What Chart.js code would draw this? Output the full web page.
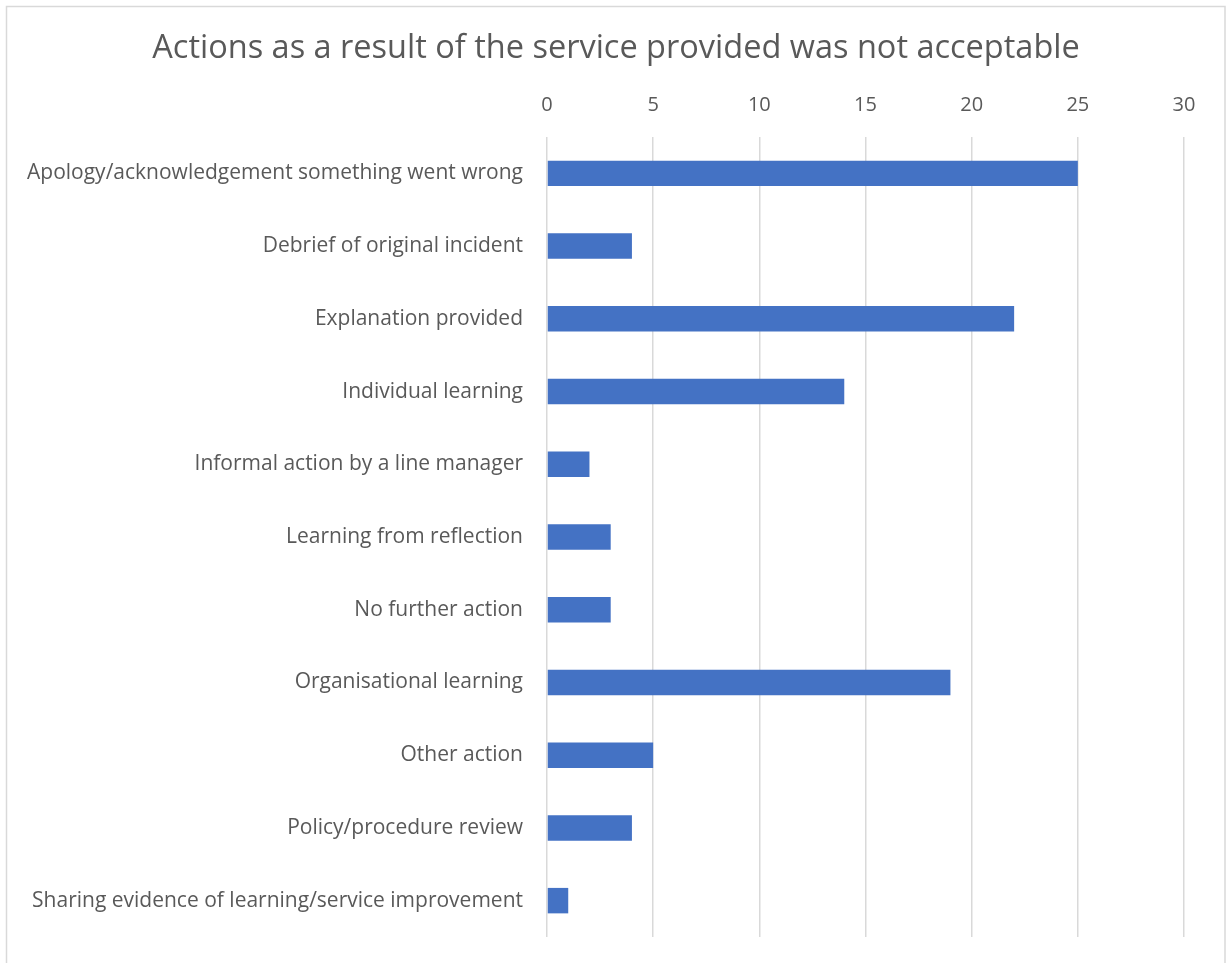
<!DOCTYPE html>
<html>
<head>
<meta charset="utf-8">
<title>Actions as a result of the service provided was not acceptable</title>
<script src="https://cdn.jsdelivr.net/npm/chart.js@4.4.1/dist/chart.umd.min.js"></script>
<style>
  html, body { margin: 0; padding: 0; background: #ffffff; }
  #wrap { width: 1226px; height: 963px; }
</style>
</head>
<body>
<div id="wrap"><canvas id="chart" width="1226" height="963"></canvas></div>
<script>
const chartTitle = 'Actions as a result of the service provided was not acceptable';

const categories = [
  'Apology/acknowledgement something went wrong',
  'Debrief of original incident',
  'Explanation provided',
  'Individual learning',
  'Informal action by a line manager',
  'Learning from reflection',
  'No further action',
  'Organisational learning',
  'Other action',
  'Policy/procedure review',
  'Sharing evidence of learning/service improvement'
];

const counts = [25, 4, 22, 14, 2, 3, 3, 19, 5, 4, 1];

const axisMin = 0;
const axisMax = 30;
const axisStep = 5;

const FONT = '"Open Sans", "Noto Sans", sans-serif';
const TEXT = '#595959';
const GRID = '#d9d9d9';

const PAD_LEFT = 6;
const PLOT_LEFT = 547;
const PLOT_TOP = 137;
const PLOT_RIGHT_GAP = 42;
const TITLE_SIZE = 32.5;
const TITLE_PAD_TOP = 29;
const TITLE_PAD_BOTTOM = 8;

// light frame around the whole chart
const framePlugin = {
  id: 'frame',
  beforeDraw(chart) {
    const ctx = chart.ctx;
    ctx.save();
    ctx.fillStyle = '#ffffff';
    ctx.fillRect(0, 0, chart.width, chart.height);
    ctx.strokeStyle = GRID;
    ctx.lineWidth = 1.5;
    ctx.strokeRect(6.5, 6.5, 1218.5, chart.height + 20);
    ctx.restore();
  }
};

new Chart(document.getElementById('chart'), {
  type: 'bar',
  data: {
    labels: categories,
    datasets: [{
      label: 'Count',
      data: counts,
      backgroundColor: '#4472C4',
      borderWidth: 0,
      categoryPercentage: 1.0,
      barPercentage: 0.35
    }]
  },
  options: {
    indexAxis: 'y',
    responsive: false,
    animation: false,
    devicePixelRatio: 1,
    layout: { padding: { left: PAD_LEFT, right: 0, top: 0, bottom: 26 } },
    plugins: {
      legend: { display: false },
      tooltip: { enabled: false },
      title: {
        display: true,
        text: chartTitle,
        color: TEXT,
        font: { family: FONT, size: TITLE_SIZE, weight: 'normal', lineHeight: 1.2 },
        padding: { top: TITLE_PAD_TOP, bottom: TITLE_PAD_BOTTOM }
      }
    },
    scales: {
      x: {
        position: 'top',
        min: axisMin,
        max: axisMax,
        ticks: {
          stepSize: axisStep,
          color: TEXT,
          font: { family: FONT, size: 20 },
          padding: 20
        },
        grid: { color: GRID, lineWidth: 1.5, drawTicks: false },
        border: { display: false },
        afterFit(scale) {
          scale.height = PLOT_TOP - TITLE_PAD_TOP - TITLE_SIZE * 1.2 - TITLE_PAD_BOTTOM;
          scale.paddingLeft = 0;
          scale.paddingRight = PLOT_RIGHT_GAP;
        }
      },
      y: {
        ticks: {
          color: TEXT,
          font: { family: FONT, size: 21 },
          padding: 24,
          autoSkip: false
        },
        grid: { display: false, drawTicks: false },
        border: { display: false },
        afterFit(scale) {
          scale.width = PLOT_LEFT - PAD_LEFT;
          scale.paddingTop = 0;
          scale.paddingBottom = 0;
        }
      }
    }
  },
  plugins: [framePlugin]
});
</script>
</body>
</html>
